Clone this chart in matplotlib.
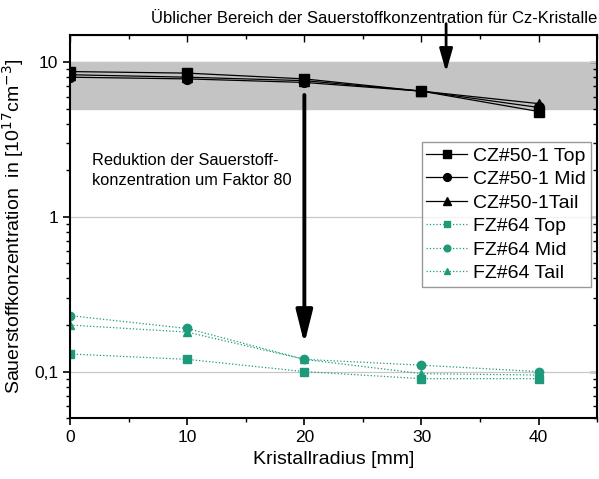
import matplotlib.pyplot as plt
from matplotlib.ticker import FixedLocator, MultipleLocator, LogLocator, NullFormatter

# Daten
radius = [0, 10, 20, 30, 40]
cz_top = [8.7, 8.5, 7.8, 6.5, 4.8]
cz_mid = [8.0, 7.8, 7.4, 6.5, 5.1]
cz_tail = [8.3, 8.0, 7.6, 6.5, 5.4]
fz_top = [0.13, 0.12, 0.10, 0.09, 0.09]
fz_mid = [0.23, 0.19, 0.12, 0.11, 0.10]
fz_tail = [0.20, 0.18, 0.12, 0.097, 0.095]
band = (5, 10)

plt.rcParams['font.family'] = ['Liberation Sans', 'DejaVu Sans']
teal = '#1c9a7a'

fig = plt.figure(figsize=(5.99, 4.79), dpi=100)
ax = fig.add_axes([0.117, 0.127, 0.88, 0.80])

ax.axhspan(band[0], band[1], color='#c4c4c4', zorder=0)
for yv in [0.1, 1, 10]:
    ax.axhline(yv, color='#c8c8c8', lw=0.9, zorder=0.5)

ax.plot(radius, cz_top, '-s', color='black', lw=0.9, ms=7, label='CZ#50-1 Top')
ax.plot(radius, cz_mid, '-o', color='black', lw=0.9, ms=7, label='CZ#50-1 Mid')
ax.plot(radius, cz_tail, '-^', color='black', lw=0.9, ms=7, label='CZ#50-1Tail')
ax.plot(radius, fz_top, ':s', color=teal, lw=0.9, ms=6, label='FZ#64 Top')
ax.plot(radius, fz_mid, ':o', color=teal, lw=0.9, ms=6, label='FZ#64 Mid')
ax.plot(radius, fz_tail, ':^', color=teal, lw=0.9, ms=6, label='FZ#64 Tail')

ax.set_yscale('log')
ax.set_xlim(0, 45)
ax.set_ylim(0.05, 15)
ax.yaxis.set_major_locator(FixedLocator([0.1, 1, 10]))
ax.set_yticklabels(['0,1', '1', '10'])
ax.yaxis.set_minor_locator(LogLocator(base=10, subs=range(2, 10)))
ax.yaxis.set_minor_formatter(NullFormatter())
ax.xaxis.set_major_locator(FixedLocator([0, 10, 20, 30, 40]))
ax.xaxis.set_minor_locator(MultipleLocator(5))
ax.tick_params(which='major', direction='out', length=5, width=1.2, labelsize=12.5)
ax.tick_params(which='minor', direction='out', length=3, width=1)

for s in ax.spines.values():
    s.set_linewidth(1.5)

# Origin-artige Ticks oben und rechts nach innen
top = ax.secondary_xaxis('top')
top.xaxis.set_major_locator(FixedLocator([0, 10, 20, 30, 40]))
top.xaxis.set_minor_locator(MultipleLocator(5))
top.tick_params(which='both', direction='in', labeltop=False, width=1)
top.tick_params(which='major', length=5)
top.tick_params(which='minor', length=3)
right = ax.secondary_yaxis('right')
right.set_yscale('log')
right.yaxis.set_major_locator(FixedLocator([0.1, 1, 10]))
right.yaxis.set_minor_locator(LogLocator(base=10, subs=range(2, 10)))
right.tick_params(which='both', direction='in', labelright=False, width=1)
right.tick_params(which='major', length=5)
right.tick_params(which='minor', length=3)

ax.set_xlabel('Kristallradius [mm]', fontsize=14)
ax.set_ylabel('Sauerstoffkonzentration  in [10$^{17}$cm$^{-3}$]', fontsize=14, labelpad=6)

ax.text(1.9, 2.0, 'Reduktion der Sauerstoff-\nkonzentration um Faktor 80',
        fontsize=11.8, va='center', ha='left', linespacing=1.45)
fig.text(0.625, 0.962, 'Üblicher Bereich der Sauerstoffkonzentration für Cz-Kristalle',
         fontsize=12, ha='center', va='center')

ax.annotate('', xy=(32.1, 8.3), xytext=(32.1, 18.5), annotation_clip=False,
            arrowprops=dict(arrowstyle='-|>,head_width=0.4,head_length=1.4',
                            color='black', lw=2))
ax.annotate('', xy=(20, 0.145), xytext=(20, 6.4),
            arrowprops=dict(arrowstyle='-|>,head_width=0.5,head_length=2.0',
                            color='black', lw=2.8))

leg = ax.legend(loc='upper right', bbox_to_anchor=(0.988, 0.72), fontsize=14,
                frameon=True, fancybox=False, edgecolor='#808080', markerscale=0.8,
                handlelength=2.1, borderpad=0.25, labelspacing=0.3, handletextpad=0.3,
                borderaxespad=0)
leg.get_frame().set_linewidth(1)

fig.savefig('out.png', dpi=100)
